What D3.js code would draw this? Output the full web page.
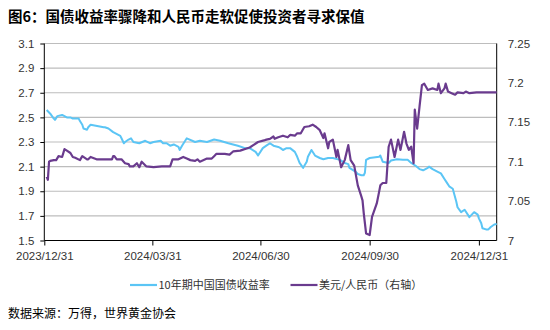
<!DOCTYPE html>
<html><head><meta charset="utf-8">
<script src="https://cdn.jsdelivr.net/npm/d3@7"></script>
<style>
body{margin:0;background:#fff;}
svg{display:block;}
text{font-family:"Liberation Sans",Arial,sans-serif;}
.cjk{font-family:"Noto Sans CJK SC",sans-serif;}
</style></head>
<body><svg id="c" width="550" height="330"></svg>
<script>
const title = "图6：国债收益率骤降和人民币走软促使投资者寻求保值";
const source = "数据来源：万得，世界黄金协会";
const seriesNames = ["10年期中国国债收益率", "美元/人民币（右轴）"];
const leftTicks = [1.5,1.7,1.9,2.1,2.3,2.5,2.7,2.9,3.1];
const leftTickLabels = ["1.5","1.7","1.9","2.1","2.3","2.5","2.7","2.9","3.1"];
const rightTicks = [7,7.05,7.1,7.15,7.2,7.25];
const rightTickLabels = ["7","7.05","7.1","7.15","7.2","7.25"];
const xTickDates = ["2023-12-31","2024-03-31","2024-06-30","2024-09-30","2024-12-31"];
const xDomain = ["2023-12-31","2025-01-15"];

const bondDates = ["2024-01-02","2024-01-03","2024-01-05","2024-01-08","2024-01-09","2024-01-11","2024-01-15","2024-01-17","2024-01-19","2024-01-22","2024-01-24","2024-01-29","2024-01-30","2024-02-01","2024-02-02","2024-02-05","2024-02-06","2024-02-08","2024-02-19","2024-02-20","2024-02-23","2024-02-27","2024-02-29","2024-03-04","2024-03-05","2024-03-07","2024-03-08","2024-03-11","2024-03-13","2024-03-15","2024-03-20","2024-03-25","2024-03-29","2024-04-01","2024-04-07","2024-04-09","2024-04-12","2024-04-15","2024-04-18","2024-04-22","2024-04-23","2024-04-25","2024-04-29","2024-05-06","2024-05-10","2024-05-16","2024-05-22","2024-05-27","2024-06-03","2024-06-07","2024-06-11","2024-06-17","2024-06-21","2024-06-26","2024-06-28","2024-07-02","2024-07-05","2024-07-08","2024-07-11","2024-07-15","2024-07-17","2024-07-19","2024-07-22","2024-07-25","2024-07-29","2024-07-31","2024-08-02","2024-08-05","2024-08-08","2024-08-09","2024-08-12","2024-08-15","2024-08-19","2024-08-22","2024-08-26","2024-08-30","2024-09-05","2024-09-09","2024-09-12","2024-09-13","2024-09-18","2024-09-20","2024-09-23","2024-09-25","2024-09-26","2024-09-27","2024-09-30","2024-10-08","2024-10-09","2024-10-11","2024-10-16","2024-10-18","2024-10-23","2024-10-28","2024-11-01","2024-11-04","2024-11-08","2024-11-11","2024-11-14","2024-11-18","2024-11-19","2024-11-22","2024-11-26","2024-11-29","2024-12-02","2024-12-04","2024-12-06","2024-12-09","2024-12-12","2024-12-13","2024-12-16","2024-12-19","2024-12-23","2024-12-25","2024-12-27","2024-12-30","2024-12-31","2025-01-02","2025-01-03","2025-01-06","2025-01-08","2025-01-10","2025-01-13","2025-01-15"];
const bondYield = [2.56,2.55,2.53,2.49,2.48,2.51,2.52,2.51,2.50,2.50,2.49,2.49,2.47,2.44,2.41,2.40,2.42,2.44,2.42,2.42,2.41,2.38,2.37,2.35,2.33,2.29,2.30,2.32,2.33,2.30,2.29,2.31,2.29,2.30,2.31,2.29,2.29,2.27,2.28,2.26,2.235,2.27,2.33,2.30,2.31,2.30,2.32,2.31,2.29,2.28,2.27,2.25,2.25,2.22,2.19,2.25,2.27,2.29,2.27,2.26,2.25,2.235,2.25,2.25,2.22,2.18,2.13,2.09,2.14,2.18,2.235,2.19,2.17,2.16,2.17,2.17,2.155,2.13,2.12,2.09,2.06,2.04,2.03,2.03,2.05,2.155,2.17,2.18,2.19,2.14,2.13,2.15,2.16,2.155,2.155,2.13,2.105,2.08,2.07,2.09,2.10,2.08,2.06,2.045,2.00,1.97,1.94,1.92,1.815,1.77,1.73,1.75,1.69,1.71,1.73,1.71,1.68,1.64,1.60,1.59,1.59,1.61,1.63,1.634];

const fxDates = ["2024-01-02","2024-01-03","2024-01-04","2024-01-05","2024-01-08","2024-01-10","2024-01-12","2024-01-15","2024-01-17","2024-01-19","2024-01-22","2024-01-24","2024-01-26","2024-01-30","2024-02-01","2024-02-05","2024-02-06","2024-02-08","2024-02-13","2024-02-22","2024-02-26","2024-02-27","2024-02-28","2024-03-01","2024-03-05","2024-03-08","2024-03-11","2024-03-12","2024-03-15","2024-03-18","2024-03-20","2024-03-22","2024-03-26","2024-04-01","2024-04-08","2024-04-12","2024-04-15","2024-04-17","2024-04-22","2024-04-26","2024-04-29","2024-05-02","2024-05-06","2024-05-08","2024-05-10","2024-05-16","2024-05-20","2024-05-22","2024-05-24","2024-05-27","2024-05-31","2024-06-04","2024-06-07","2024-06-13","2024-06-19","2024-06-21","2024-06-24","2024-06-28","2024-07-03","2024-07-05","2024-07-08","2024-07-11","2024-07-12","2024-07-15","2024-07-19","2024-07-23","2024-07-25","2024-07-29","2024-07-31","2024-08-03","2024-08-06","2024-08-10","2024-08-13","2024-08-16","2024-08-19","2024-08-22","2024-08-23","2024-08-26","2024-08-27","2024-08-30","2024-09-02","2024-09-03","2024-09-06","2024-09-09","2024-09-12","2024-09-14","2024-09-17","2024-09-20","2024-09-23","2024-09-24","2024-09-25","2024-09-27","2024-09-30","2024-10-02","2024-10-06","2024-10-08","2024-10-09","2024-10-11","2024-10-14","2024-10-16","2024-10-18","2024-10-21","2024-10-24","2024-10-26","2024-10-29","2024-10-31","2024-11-02","2024-11-04","2024-11-06","2024-11-07","2024-11-09","2024-11-11","2024-11-13","2024-11-15","2024-11-18","2024-11-22","2024-11-26","2024-11-27","2024-11-29","2024-12-02","2024-12-03","2024-12-05","2024-12-08","2024-12-11","2024-12-13","2024-12-18","2024-12-20","2024-12-23","2024-12-29","2025-01-03","2025-01-09","2025-01-15"];
const usdCny = [7.081,7.077,7.100,7.101,7.102,7.102,7.107,7.106,7.116,7.114,7.111,7.106,7.105,7.102,7.107,7.103,7.103,7.106,7.103,7.103,7.103,7.107,7.107,7.103,7.103,7.098,7.097,7.094,7.094,7.098,7.093,7.100,7.094,7.093,7.094,7.094,7.094,7.103,7.103,7.106,7.104,7.102,7.101,7.103,7.100,7.104,7.104,7.107,7.110,7.110,7.110,7.109,7.113,7.114,7.117,7.118,7.121,7.125,7.127,7.128,7.129,7.132,7.129,7.131,7.133,7.131,7.134,7.133,7.136,7.136,7.144,7.145,7.147,7.144,7.140,7.130,7.136,7.117,7.125,7.128,7.106,7.115,7.093,7.102,7.121,7.102,7.095,7.070,7.056,7.051,7.035,7.009,7.007,7.030,7.047,7.062,7.070,7.073,7.073,7.119,7.128,7.106,7.128,7.115,7.138,7.123,7.115,7.119,7.098,7.166,7.142,7.170,7.197,7.199,7.191,7.193,7.191,7.199,7.187,7.193,7.199,7.189,7.187,7.185,7.188,7.187,7.189,7.187,7.188,7.188,7.188,7.188];

const blue = "#5bc5f5", purple = "#6a3b8e";
const parse = d3.utcParse("%Y-%m-%d");
const svg = d3.select("#c");

const L = 44.3, R = 496.7, T = 43.5, B = 240.5;
const x = d3.scaleUtc().domain(xDomain.map(parse)).range([L, R]);
const yL = d3.scaleLinear().domain([1.5, 3.1]).range([B, T]);
const yR = d3.scaleLinear().domain([7, 7.25]).range([B, T]);

// title
svg.append("text").attr("class","cjk").attr("x",8).attr("y",22)
  .attr("font-size",14.5).attr("font-weight","bold").attr("fill","#000").text(title);

// gridlines
svg.append("g").selectAll("line").data(leftTicks.filter(v => v > 1.5)).join("line")
  .attr("x1", L).attr("x2", R).attr("y1", d => yL(d)).attr("y2", d => yL(d))
  .attr("stroke", "#bdbdbd").attr("stroke-width", 1.2);

// axes
const axL = svg.append("g").attr("transform", `translate(${L},0)`)
  .call(d3.axisLeft(yL).tickValues(leftTicks).tickSize(4).tickPadding(6)
    .tickFormat((d,i) => leftTickLabels[i]));
const axR = svg.append("g").attr("transform", `translate(${R},0)`)
  .call(d3.axisRight(yR).tickValues(rightTicks).tickSize(0).tickPadding(11)
    .tickFormat((d,i) => rightTickLabels[i]));
const axB = svg.append("g").attr("transform", `translate(0,${B})`)
  .call(d3.axisBottom(x).tickValues(xTickDates.map(parse)).tickSize(5).tickPadding(6)
    .tickFormat(d3.utcFormat("%Y/%m/%d")));
[axL, axR, axB].forEach(g => {
  g.select(".domain").attr("stroke", "#000").attr("stroke-width", 1);
  g.selectAll(".tick line").attr("stroke", "#000");
  g.selectAll("text").attr("font-size", 11.5).attr("fill", "#333")
    .attr("font-family", "'Liberation Sans', Arial, sans-serif");
});
axL.select(".domain").attr("d", `M0,${B}V${T}`);
axR.select(".domain").attr("d", `M0,${B}V${T}`);
axB.select(".domain").attr("d", `M${L},0H${R}`);

// lines
const bond = bondDates.map((d,i) => ({d: parse(d), v: bondYield[i]}));
const fx = fxDates.map((d,i) => ({d: parse(d), v: usdCny[i]}));
svg.append("path").datum(bond).attr("fill","none").attr("stroke",blue).attr("stroke-width",2)
  .attr("stroke-linejoin","round").attr("d", d3.line().x(p => x(p.d)).y(p => yL(p.v)));
svg.append("path").datum(fx).attr("fill","none").attr("stroke",purple).attr("stroke-width",2.2)
  .attr("stroke-linejoin","round").attr("d", d3.line().x(p => x(p.d)).y(p => yR(p.v)));

// legend
const legend = [{c: blue, x: 130, name: seriesNames[0]}, {c: purple, x: 290.5, name: seriesNames[1]}];
const lg = svg.append("g").selectAll("g").data(legend).join("g");
lg.append("line").attr("x1", d => d.x).attr("x2", d => d.x + 27).attr("y1", 285).attr("y2", 285)
  .attr("stroke", d => d.c).attr("stroke-width", 2.2);
lg.append("text").attr("class","cjk").attr("x", d => d.x + 28.5).attr("y", 289)
  .attr("font-size", 11).attr("fill", "#333").text(d => d.name);

// source
svg.append("text").attr("class","cjk").attr("x", 8).attr("y", 318)
  .attr("font-size", 12).attr("fill", "#000").text(source);
</script></body></html>
